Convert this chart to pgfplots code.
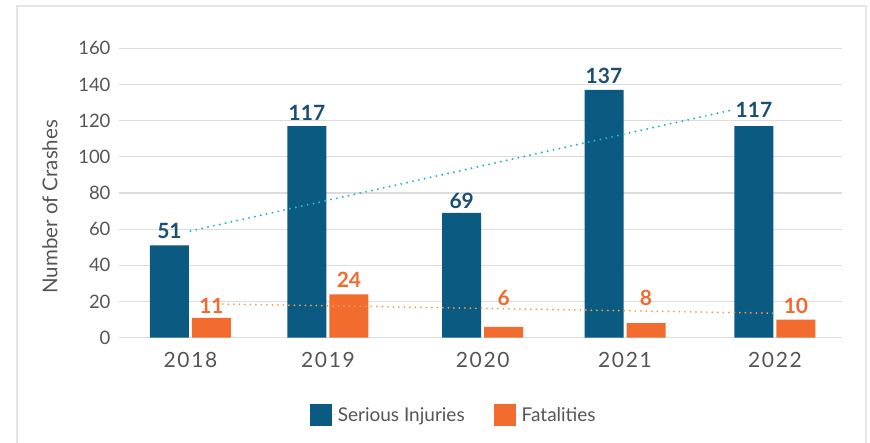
\documentclass[border=0pt]{standalone}
\usepackage{pgfplots}
\pgfplotsset{compat=1.18}
\usepackage{fontspec}
\setmainfont{Lato}
\definecolor{barblue}{HTML}{0B5A82}
\definecolor{barorange}{HTML}{F36C2F}
\definecolor{lblblue}{HTML}{1B4F72}
\definecolor{lblorange}{HTML}{F26B2E}
\definecolor{trendblue}{HTML}{2AB0C9}
\definecolor{trendorange}{HTML}{F0A04A}
\definecolor{gridgray}{HTML}{DCDCDC}
\definecolor{textgray}{HTML}{555555}
\definecolor{framegray}{HTML}{E6E6E6}
\begin{document}
\begin{tikzpicture}[x=1pt,y=1pt]
\path[use as bounding box] (0,0) rectangle (870,443);
\draw[framegray, line width=1.5pt] (17,-5) -- (17,437) -- (866,437) -- (866,-5);
\begin{axis}[
  at={(119pt,105.3pt)}, anchor=south west,
  width=723pt, height=289.4pt, scale only axis,
  xmin=-0.489, xmax=4.459, ymin=0, ymax=160,
  axis line style={draw=none},
  ytick={0,20,...,160},
  xtick={0,0.941,2,2.974,4},
  xticklabels={2018,2019,2020,2021,2022},
  major tick length=0pt,
  ymajorgrids, grid style={draw=gridgray, line width=1.2pt},
  /pgf/number format/assume math mode=true,
  yticklabel style={font=\fontsize{18.5}{18.5}\selectfont, text=textgray, xshift=-5pt},
  xticklabel style={font=\fontsize{21}{21}\selectfont\addfontfeature{LetterSpace=8}, text=textgray, yshift=-11pt},
  ylabel={Number of Crashes},
  ylabel style={at={(axis description cs:-0.0954,0.452)}, anchor=center, font=\fontsize{20.5}{20.5}\selectfont, text=textgray},
  legend columns=2,
  legend style={at={(axis description cs:0.463,-0.267)}, anchor=center, draw=none, fill=none,
    font=\fontsize{19}{19}\selectfont, text=textgray, cells={anchor=west},
    /tikz/every even column/.append style={column sep=27pt}},
]
\addplot[ybar, bar width=39pt, bar shift=-21pt, fill=barblue, draw=none,
  legend image code/.code={\fill[barblue] (0pt,-11pt) rectangle (22pt,11pt); \path (0pt,0pt) -- (26pt,0pt);}]
  coordinates {(0,51) (0.941,117) (2,69) (2.974,137) (4,117)};
\addlegendentry{Serious Injuries}
\addplot[ybar, bar width=39pt, bar shift=21pt, fill=barorange, draw=none,
  legend image code/.code={\fill[barorange] (0pt,-11pt) rectangle (22pt,11pt); \path (0pt,0pt) -- (26pt,0pt);}]
  coordinates {(0,11) (0.941,24) (2,6) (2.974,8) (4,10)};
\addlegendentry{Fatalities}
% trend lines
\addplot[forget plot, trendblue, line width=2.2pt, line cap=round, dash pattern=on 0pt off 6pt]
  coordinates {(0,59) (3.713,126)};
\addplot[forget plot, trendorange, line width=2pt, line cap=round, dash pattern=on 0pt off 5.5pt]
  coordinates {(0.222,18.6) (4.014,13.5)};
% data labels
\addplot[forget plot, draw=none, nodes near coords, point meta=explicit symbolic,
  nodes near coords style={anchor=base, inner sep=0pt, xshift=-21pt, text=lblblue,
  font=\fontsize{21}{21}\selectfont\bfseries}]
  coordinates {(0,55.1) [51] (0.941,120.3) [117] (2,71.7) [69] (2.974,140.8) [137] (4,122) [117]};
\addplot[forget plot, draw=none, nodes near coords, point meta=explicit symbolic,
  nodes near coords style={anchor=base, inner sep=0pt, xshift=21pt, text=lblorange,
  font=\fontsize{21}{21}\selectfont\bfseries}]
  coordinates {(0,13.6) [11] (0.941,27.9) [24] (2,17.8) [6] (2.974,17.8) [8] (4,13.6) [10]};
\end{axis}
\end{tikzpicture}
\end{document}
